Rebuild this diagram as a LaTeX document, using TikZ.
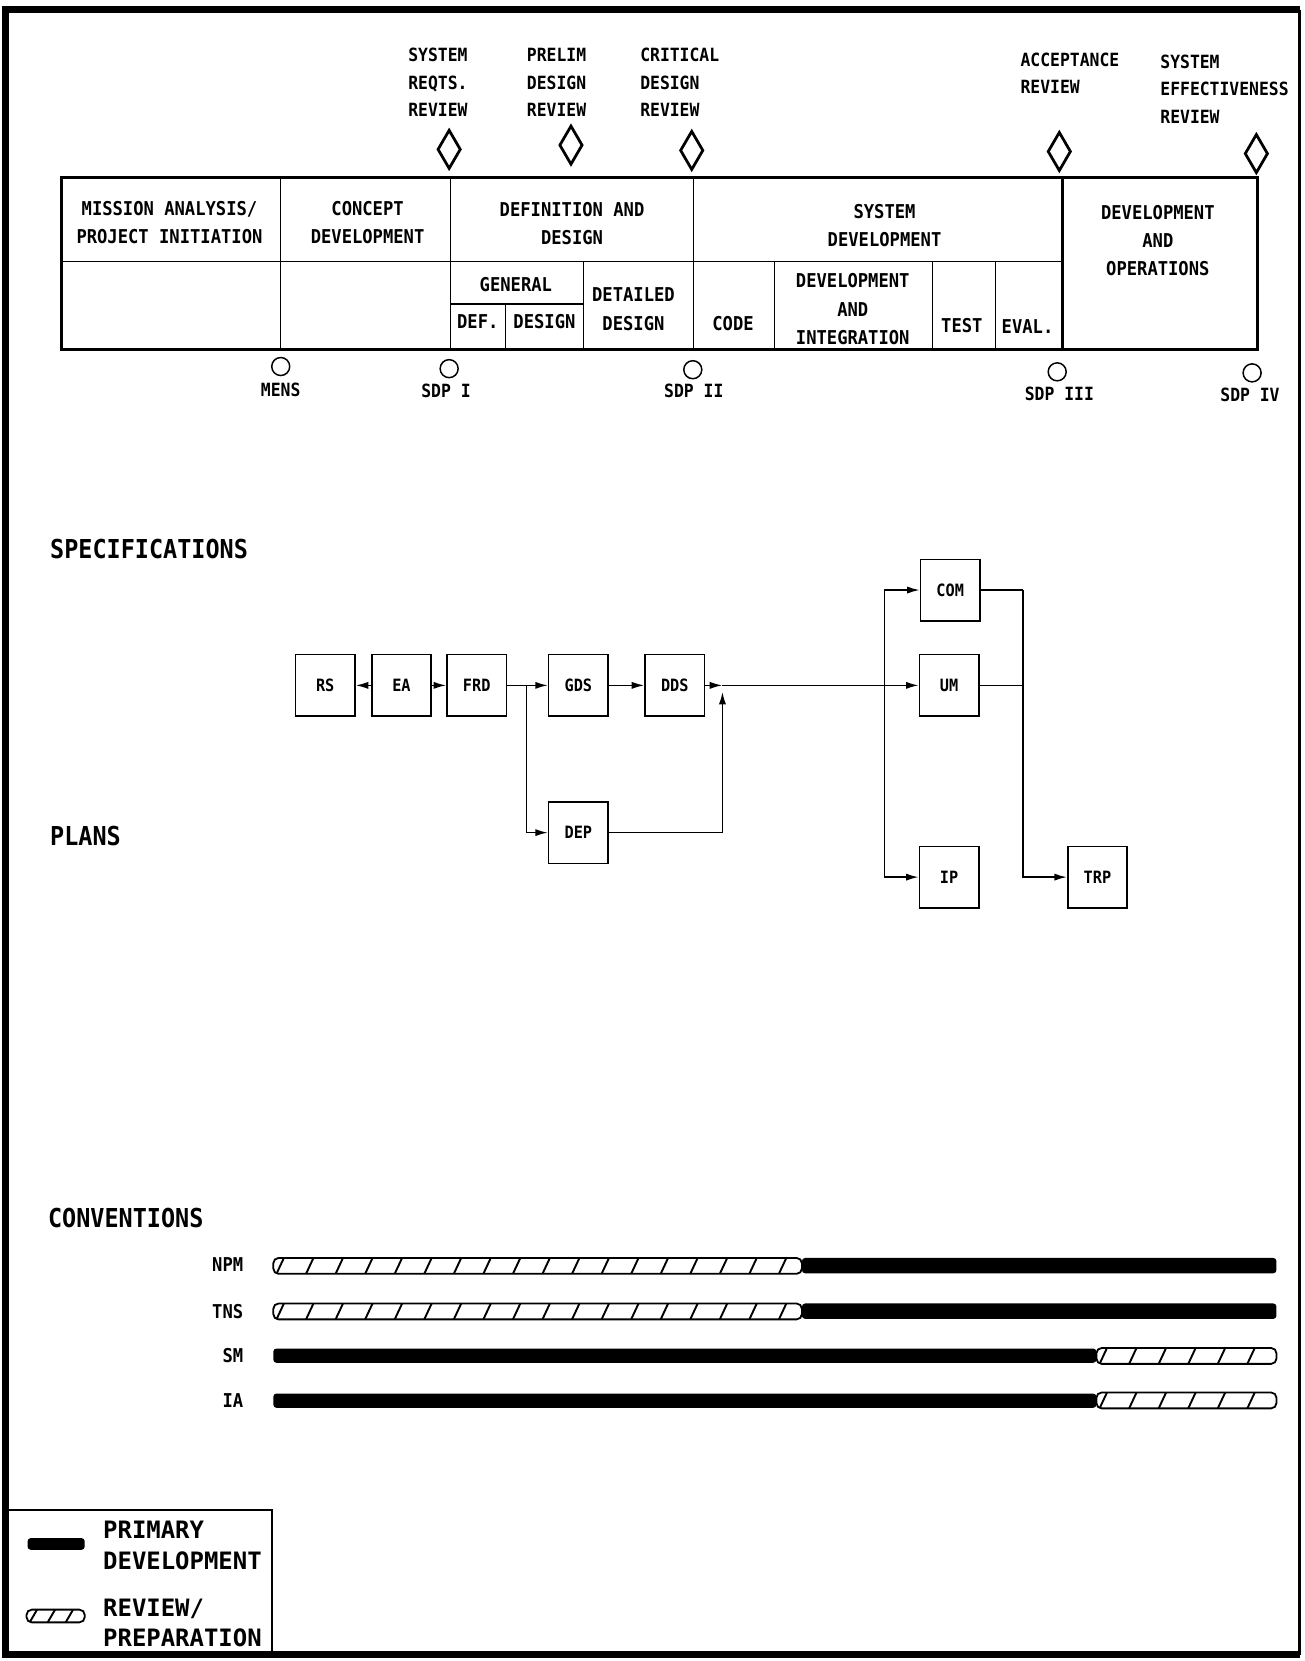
\documentclass[tikz,border=0pt]{standalone}
\usepackage{fontspec}
\setmainfont{DejaVu Sans Mono}[FakeStretch=0.9]
\newfontfamily\widefont{DejaVu Sans Mono}
\usetikzlibrary{arrows.meta,shapes.geometric}
\newcommand{\revbar}[5]{% x1, x2, y, half height, slash spacing
  \draw[line width=0.85pt, rounded corners=2.5pt] (#1,#3-#4) rectangle (#2,#3+#4);
  \pgfmathtruncatemacro{\nsl}{(#2-#1-12)/#5}
  \foreach \i in {0,...,\nsl} {
    \draw[line width=0.9pt] (#1+3+\i*#5,#3+#4) -- (#1+10+\i*#5,#3-#4);
  }
}
\begin{document}
\begin{tikzpicture}[x=0.5pt,y=-0.5pt,
  tt/.style={font=\bfseries\fontsize{9}{13.4}\selectfont, align=center, inner sep=0pt},
  rv/.style={font=\bfseries\fontsize{8.6}{13}\selectfont, align=left, inner sep=0pt, anchor=west},
  hd/.style={font=\bfseries\fontsize{12.3}{14}\selectfont, inner sep=0pt, anchor=west},
  sm/.style={font=\bfseries\fontsize{8.6}{10}\selectfont, inner sep=0pt},
  fbox/.style={draw, line width=0.7pt, minimum width=28pt, minimum height=29pt, inner sep=0pt, font=\bfseries\fontsize{8}{9}\selectfont},
  conn/.style={line width=0.8pt},
  arr/.style={conn, -{Latex[length=6pt,width=3.4pt]}},
  dia/.style={draw, diamond, line width=1.3pt, minimum width=11pt, minimum height=18.5pt, inner sep=0pt},
  circ/.style={draw, circle, line width=0.7pt, minimum size=8.5pt, inner sep=0pt},
  barlab/.style={font=\bfseries\fontsize{9}{10}\selectfont, inner sep=0pt, anchor=east},
  lg/.style={font=\widefont\bfseries\fontsize{11.3}{14.3}\selectfont, align=left, inner sep=0pt, anchor=west},
  tblout/.style={line width=1.4pt},
  tblin/.style={line width=0.6pt},
  primbar/.style={fill=black, rounded corners=1.5pt}
]
\useasboundingbox (0,0) rectangle (1231,1568);
\fill[white] (0,0) rectangle (1231,1568);
% outer frame
\draw[line width=3.5pt] (1227,9) -- (5,9) -- (5,1562) -- (1227,1562);
\draw[line width=1.6pt] (1227,9) -- (1227,1562);

% ---------- review labels and diamonds ----------
\node[rv] (rv1) at (385,78) {SYSTEM\\REQTS.\\REVIEW};
\node[rv] (rv2) at (497,78) {PRELIM\\DESIGN\\REVIEW};
\node[rv] (rv3) at (604,78) {CRITICAL\\DESIGN\\REVIEW};
\node[rv] (rv4) at (963,69) {ACCEPTANCE\\REVIEW};
\node[rv] (rv5) at (1095,84) {SYSTEM\\EFFECTIVENESS\\REVIEW};
\node[dia] (d1) at (424,141) {};
\node[dia] (d2) at (539,137) {};
\node[dia] (d3) at (653,142) {};
\node[dia] (d4) at (1000,143) {};
\node[dia] (d5) at (1186,145) {};

% ---------- phase table ----------
\draw[tblout] (58,168) rectangle (1187,330);
\draw[tblin] (58,247) -- (1003,247);
\draw[tblin] (265,168) -- (265,330);
\draw[tblin] (425,168) -- (425,330);
\draw[tblin] (655,168) -- (655,330);
\draw[line width=1.2pt] (1003,168) -- (1003,330);
\draw[tblin] (551,247) -- (551,330);
\draw[tblin] (425,287) -- (551,287);
\draw[tblin] (477,287) -- (477,330);
\draw[tblin] (731,247) -- (731,330);
\draw[tblin] (880,247) -- (880,330);
\draw[tblin] (940,247) -- (940,330);

\node[tt] (p1) at (160,210) {MISSION ANALYSIS/\\PROJECT INITIATION};
\node[tt] (p2) at (347,210) {CONCEPT\\DEVELOPMENT};
\node[tt] (p3) at (540,211) {DEFINITION AND\\DESIGN};
\node[tt] (p4) at (835,213) {SYSTEM\\DEVELOPMENT};
\node[tt] (p5) at (1093,227) {DEVELOPMENT\\AND\\OPERATIONS};
\node[tt] (s1) at (487,269) {GENERAL};
\node[tt] (s2) at (451,304) {DEF.};
\node[tt] (s3) at (514,304) {DESIGN};
\node[tt] (s4) at (598,292) {DETAILED\\DESIGN};
\node[tt] (s5) at (692,305) {CODE};
\node[tt] (s6) at (805,292) {DEVELOPMENT\\AND\\INTEGRATION};
\node[tt] (s7) at (908,307) {TEST};
\node[tt] (s8) at (970,308) {EVAL.};

% ---------- milestones ----------
\node[circ] (c1) at (265,346) {};
\node[circ] (c2) at (424,348) {};
\node[circ] (c3) at (654,349) {};
\node[circ] (c4) at (998,351) {};
\node[circ] (c5) at (1182,352) {};
\node[sm] (m1l) at (265,368) {MENS};
\node[sm] (m2l) at (421,369) {SDP I};
\node[sm] (m3l) at (655,369) {SDP II};
\node[sm] (m4l) at (1000,372) {SDP III};
\node[sm] (m5l) at (1180,373) {SDP IV};

% ---------- section headings ----------
\node[hd] (hspec) at (47,518) {SPECIFICATIONS};
\node[hd] (hplan) at (47,789) {PLANS};
\node[hd] (hconv) at (45,1150) {CONVENTIONS};

% ---------- flow ----------
\node[fbox] (rs)  at (307,647) {RS};
\node[fbox] (ea)  at (379,647) {EA};
\node[fbox] (frd) at (450,647) {FRD};
\node[fbox] (gds) at (546,647) {GDS};
\node[fbox] (dds) at (637,647) {DDS};
\node[fbox] (dep) at (546,786) {DEP};
\node[fbox] (com) at (897,557) {COM};
\node[fbox] (um)  at (896,647) {UM};
\node[fbox] (ip)  at (896,828) {IP};
\node[fbox] (trp) at (1036,828) {TRP};

\coordinate (b1) at (497,647);
\coordinate (mg) at (682,647);
\coordinate (mgb) at (682,653);
\coordinate (lb) at (835,647);
\coordinate (rb) at (966,557);

\draw[arr] (ea.west) -- (rs.east);
\draw[arr] (ea.east) -- (frd.west);
\draw[arr] (frd.east) -- (gds.west);
\draw[arr] (b1) |- (dep.west);
\draw[arr] (gds.east) -- (dds.west);
\draw[arr] (dds.east) -- (mg);
\draw[arr] (dep.east) -| (mgb);
\draw[arr] (mg) -- (um.west);
\draw[arr] (lb) |- (com.west);
\draw[arr] (lb) |- (ip.west);
\draw[conn] (com.east) -- (rb);
\draw[arr] (rb) |- (trp.west);
\draw[conn] (um.east) -- (um.east -| rb);

% ---------- convention bars ----------
\node[barlab] (lnpm) at (230,1194) {NPM};
\node[barlab] (ltns) at (230,1238) {TNS};
\node[barlab] (lsm)  at (230,1280) {SM};
\node[barlab] (lia)  at (230,1322) {IA};

\revbar{258}{757}{1195}{7.5}{27.9}
\fill[primbar] (757,1187.5) rectangle (1205,1202);
\revbar{258}{757}{1238}{7.5}{27.9}
\fill[primbar] (757,1230.5) rectangle (1205,1245);
\fill[primbar] (258,1273) rectangle (1035,1286.5);
\revbar{1035}{1205}{1280}{7.5}{27.9}
\fill[primbar] (258,1315.5) rectangle (1035,1329);
\revbar{1035}{1205}{1322}{7.5}{27.9}

% ---------- legend ----------
\draw[line width=0.8pt] (8,1425.5) rectangle (256.5,1562);
\fill[primbar] (26,1452) rectangle (80,1463);
\revbar{25}{80}{1525.5}{6}{17}
\node[lg] (lg1) at (97,1459) {PRIMARY\\DEVELOPMENT};
\node[lg] (lg2) at (97,1532) {REVIEW/\\PREPARATION};
\end{tikzpicture}
\end{document}
